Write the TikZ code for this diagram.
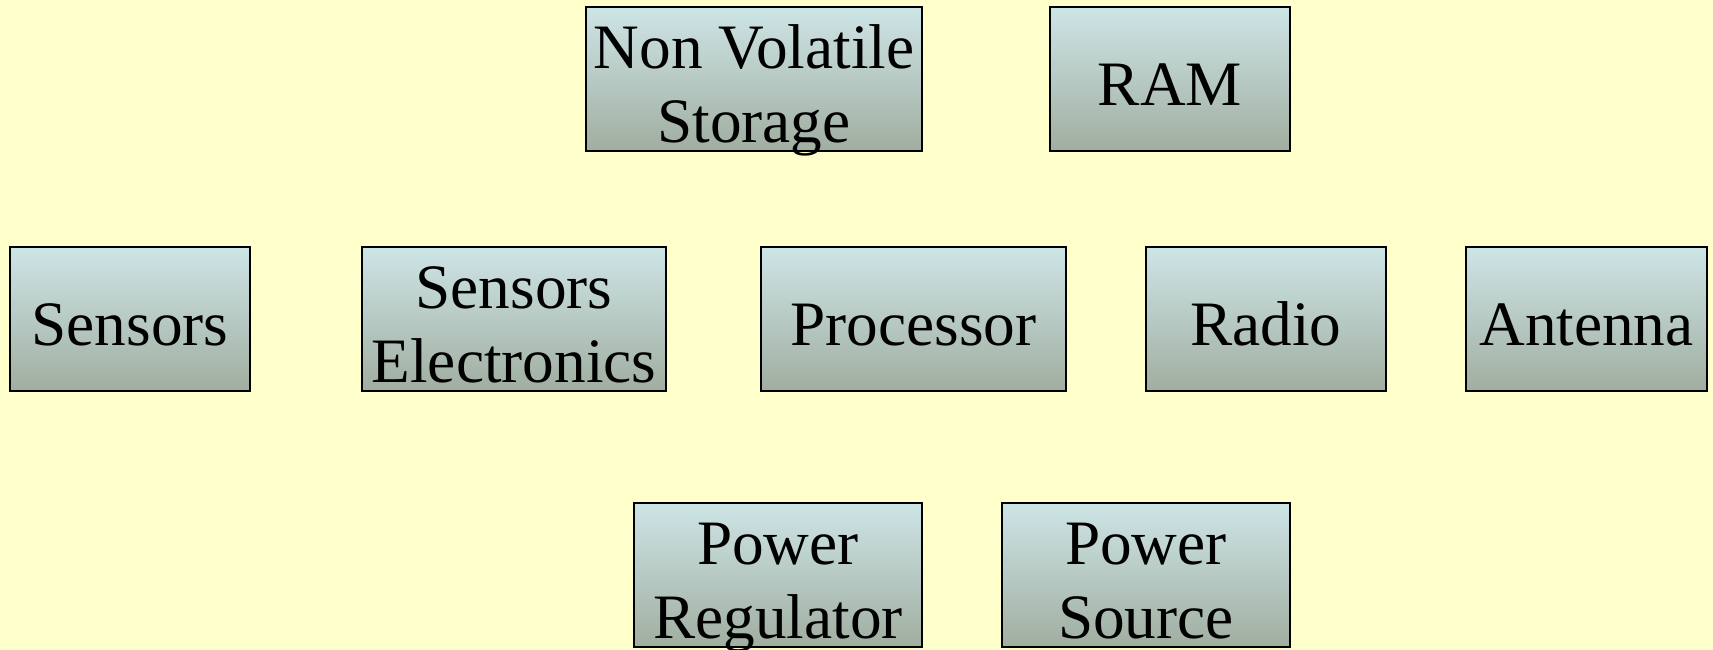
\documentclass[tikz,border=0pt]{standalone}
\usepackage{fontspec}
\setmainfont{Liberation Serif}
\usepackage{tikz}
\definecolor{bgyellow}{RGB}{255,255,204}
\definecolor{boxtop}{RGB}{206,229,230}
\definecolor{boxbot}{RGB}{160,174,160}
\newcommand{\bline}[1]{\rule[-4pt]{0pt}{38pt}\smash{#1}}
\tikzset{blk/.style={draw=black, line width=0.8pt, top color=boxtop, bottom color=boxbot,
  align=center, inner sep=0pt, minimum height=2.88cm}}

\begin{document}
\begin{tikzpicture}[font=\fontsize{36}{42}\selectfont]
  \fill[bgyellow] (0,0) rectangle (34.26,13);
  \useasboundingbox (0,0) rectangle (34.26,13);
  \node[blk, minimum width=6.72cm] (m0) at (15.08,11.42) {\bline{Non Volatile}\\\bline{Storage}};
  \node[blk, minimum width=4.80cm] (m1) at (23.40,11.42) {\bline{RAM}};
  \node[blk, minimum width=4.80cm] (c0) at (2.60,6.62) {\bline{Sensors}};
  \node[blk, minimum width=6.08cm] (c1) at (10.28,6.62) {\bline{Sensors}\\\bline{Electronics}};
  \node[blk, minimum width=6.10cm] (c2) at (18.27,6.62) {\bline{Processor}};
  \node[blk, minimum width=4.80cm] (c3) at (25.32,6.62) {\bline{Radio}};
  \node[blk, minimum width=4.82cm] (c4) at (31.73,6.62) {\bline{Antenna}};
  \node[blk, minimum width=5.76cm] (p0) at (15.56,1.50) {\bline{Power}\\\bline{Regulator}};
  \node[blk, minimum width=5.76cm] (p1) at (22.92,1.50) {\bline{Power}\\\bline{Source}};
\end{tikzpicture}
\end{document}
